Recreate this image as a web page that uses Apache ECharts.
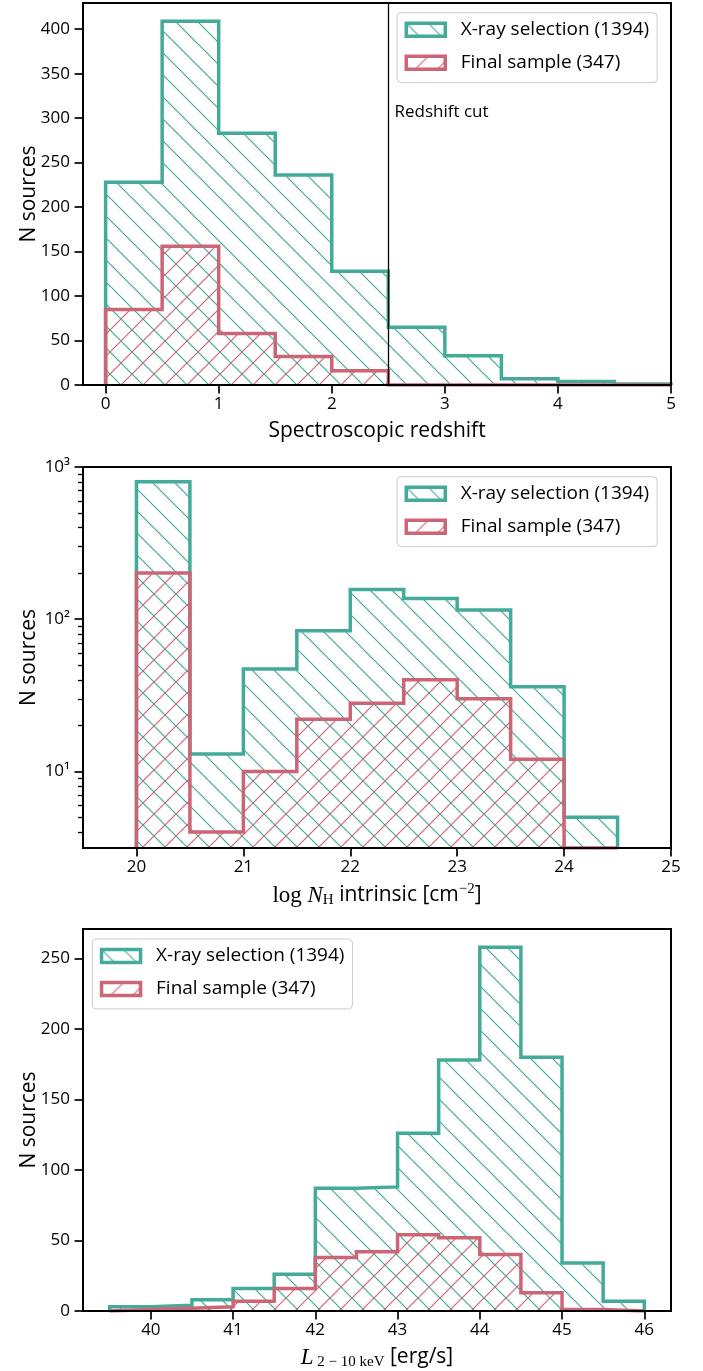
<!DOCTYPE html>
<html><head><meta charset="utf-8">
<script src="https://cdn.jsdelivr.net/npm/echarts@6/dist/echarts.min.js"></script>
<style>html,body{margin:0;padding:0;background:#fff}#c{width:703px;height:1371px}</style>
</head><body><div id="c"></div>
<script>
// ---------------- data ----------------
const NAME_XRAY = 'X-ray selection (1394)';
const NAME_FINAL = 'Final sample (347)';

// Panel 1: spectroscopic redshift
const Z_BIN_START = 0, Z_BIN_WIDTH = 0.5;
const Z_XRAY  = [228, 409, 283, 236, 128, 65, 33, 7, 4, 1];
const Z_FINAL = [85, 156, 58, 32, 16, 0, 0, 0, 0, 0];
const Z_XTICKS = [0, 1, 2, 3, 4, 5];
const Z_YTICKS = [0, 50, 100, 150, 200, 250, 300, 350, 400];
const Z_CUT = 2.5;
const Z_CUT_LABEL = 'Redshift cut';

// Panel 2: log NH intrinsic
const NH_BIN_START = 20, NH_BIN_WIDTH = 0.5;
const NH_XRAY  = [800, 13, 47, 84, 157, 137, 115, 36, 5];
const NH_FINAL = [201, 4, 10, 22, 28, 40, 30, 12, 0];
const NH_XTICKS = [20, 21, 22, 23, 24, 25];
const NH_YTICKS = [10, 100, 1000];
const NH_YMINOR = [4, 5, 6, 7, 8, 9, 20, 30, 40, 50, 60, 70, 80, 90, 200, 300, 400, 500, 600, 700, 800, 900];
const NH_YLABELS = {10: '10¹', 100: '10²', 1000: '10³'};

// Panel 3: L 2-10 keV
const L_BIN_START = 39.5, L_BIN_WIDTH = 0.5;
const L_XRAY  = [3, 4, 8, 16, 26, 87, 88, 126, 178, 258, 180, 34, 7];
const L_FINAL = [1, 2, 3, 7, 16, 38, 42, 54, 52, 40, 13, 1, 0];
const L_XTICKS = [40, 41, 42, 43, 44, 45, 46];
const L_YTICKS = [0, 50, 100, 150, 200, 250];

// ---------------- style ----------------
const TEAL = '#44AA99', ROSE = '#CC6677';
const SANS = "'Open Sans', 'Noto Sans', sans-serif";
const SERIF = "'Liberation Serif', 'DejaVu Serif', serif";
const TICK_FS = 17, NAME_FS = 21, LEG_FS = 19;

function hatch(color, dir) {
  const s = 22;
  const c = document.createElement('canvas'); c.width = s; c.height = s;
  const g = c.getContext('2d');
  g.strokeStyle = color; g.lineWidth = 1.2; g.beginPath();
  if (dir === 'back') {
    g.moveTo(-2, -2); g.lineTo(s + 2, s + 2);
    g.moveTo(-2, s - 2); g.lineTo(2, s + 2);
    g.moveTo(s - 2, -2); g.lineTo(s + 2, 2);
  } else {
    g.moveTo(-2, s + 2); g.lineTo(s + 2, -2);
    g.moveTo(-2, 2); g.lineTo(2, -2);
    g.moveTo(s - 2, s + 2); g.lineTo(s + 2, s - 2);
  }
  g.stroke();
  return {image: c, repeat: 'repeat'};
}
const TEAL_PAT = hatch(TEAL, 'back');
const ROSE_PAT = hatch(ROSE, 'fwd');

function stepPoints(start, width, counts, base) {
  const pts = [[start, base]];
  counts.forEach((v, i) => {
    const y = v > 0 ? v : base;
    const x0 = start + i * width, x1 = start + (i + 1) * width;
    pts.push([x0, y], [x1, y]);
  });
  pts.push([start + counts.length * width, base]);
  return pts;
}

function histSeries(name, xi, yi, pts, color, pat, z) {
  return {
    type: 'line', name, xAxisIndex: xi, yAxisIndex: yi, data: pts,
    symbol: 'none', showSymbol: false, silent: true, animation: false, z,
    lineStyle: {color, width: 3.5, join: 'miter', cap: 'butt'},
    itemStyle: {color},
    areaStyle: {color: pat, opacity: 1, origin: 'start'}
  };
}

const GRID_LEFT = 83, GRID_W = 588;
const grids = [
  {left: GRID_LEFT, top: 3, width: GRID_W, height: 382},
  {left: GRID_LEFT, top: 467, width: GRID_W, height: 381},
  {left: GRID_LEFT, top: 929, width: GRID_W, height: 383}
].map(g => Object.assign(g, {show: true, borderColor: '#000', borderWidth: 2, z: 3}));

const axisLineStyle = {show: true, onZero: false, lineStyle: {color: '#000', width: 2}};
const tickStyle = (vals, len) => ({show: true, length: len || 8.5, customValues: vals, lineStyle: {color: '#000', width: 1.7}});
const labelStyle = (vals, margin, fmt) => {
  const o = {show: true, customValues: vals, color: '#000', fontSize: TICK_FS, fontFamily: SANS, margin};
  if (fmt) o.formatter = fmt;
  return o;
};

function xAxis(gi, min, max, ticks, name, gap, rich) {
  const ax = {
    type: 'value', gridIndex: gi, min, max, z: 3,
    axisLine: axisLineStyle, axisTick: tickStyle(ticks), axisLabel: labelStyle(ticks, 11),
    splitLine: {show: false},
    name, nameLocation: 'middle', nameGap: gap, nameMoveOverlap: false,
    nameTextStyle: {color: '#000', fontSize: NAME_FS, fontFamily: SANS}
  };
  if (rich) ax.nameTextStyle.rich = rich;
  return ax;
}
function yAxis(gi, type, min, max, ticks, fmt) {
  return {
    type, gridIndex: gi, min, max, z: 3, logBase: 10, position: 'left',
    axisLine: axisLineStyle, axisTick: tickStyle(ticks), axisLabel: labelStyle(ticks, 13, fmt),
    splitLine: {show: false}, minorTick: {show: false},
    name: 'N sources', nameLocation: 'middle', nameRotate: 90, nameGap: 43, nameMoveOverlap: false,
    nameTextStyle: {color: '#000', fontSize: NAME_FS, fontFamily: SANS}
  };
}

const richName = {
  t: {fontFamily: SANS, fontSize: NAME_FS, color: '#000'},
  m: {fontFamily: SERIF, fontSize: 23, color: '#000'},
  mi: {fontFamily: SERIF, fontStyle: 'italic', fontSize: 23, color: '#000'},
  sub: {fontFamily: SERIF, fontSize: 15, color: '#000', padding: [10, 0, 0, 0]},
  sup: {fontFamily: SERIF, fontSize: 15, color: '#000', padding: [0, 0, 12, 0]}
};

function legend(left, top) {
  return {
    orient: 'vertical', left, top, z: 6,
    padding: [7.5, 8, 10.4, 7.5], itemWidth: 39, itemHeight: 13, itemGap: 14,
    backgroundColor: 'rgba(255,255,255,0.8)', borderColor: '#cccccc', borderWidth: 1, borderRadius: 4,
    selectedMode: false,
    textStyle: {color: '#000', fontSize: LEG_FS, fontFamily: SANS, lineHeight: 16, padding: [0, 0, 0, 10.5]},
    data: [
      {name: NAME_XRAY, icon: 'rect', itemStyle: {color: TEAL_PAT, borderColor: TEAL, borderWidth: 3.5}},
      {name: NAME_FINAL, icon: 'rect', itemStyle: {color: ROSE_PAT, borderColor: ROSE, borderWidth: 3.5}}
    ]
  };
}

const NH_YMIN = 3.14, NH_YMAX = 1000;

const option = {
  animation: false,
  backgroundColor: '#fff',
  grid: grids,
  xAxis: [
    xAxis(0, -0.2, 5, Z_XTICKS, 'Spectroscopic redshift', 36),
    xAxis(1, 19.5, 25, NH_XTICKS, '{m|log }{mi|N}{sub|H}{t| intrinsic [cm}{sup|−2}{t|]}', 34, richName),
    xAxis(2, 39.175, 46.325, L_XTICKS, '{mi|L}{sub| 2 − 10 keV}{t| [erg/s]}', 34, richName)
  ],
  yAxis: [
    yAxis(0, 'value', 0, 429.45, Z_YTICKS),
    yAxis(1, 'log', NH_YMIN, NH_YMAX, NH_YTICKS, v => NH_YLABELS[Math.round(v)] || ''),
    {
      type: 'log', logBase: 10, gridIndex: 1, min: NH_YMIN, max: NH_YMAX, z: 3, position: 'left', offset: 0,
      axisLine: {show: false}, axisLabel: {show: false}, splitLine: {show: false},
      axisTick: {show: true, length: 5, customValues: NH_YMINOR, lineStyle: {color: '#000', width: 1.3}}
    },
    yAxis(2, 'value', 0, 270.9, L_YTICKS)
  ],
  legend: [legend(397, 12.7), legend(397, 476.7), legend(92.3, 939)],
  series: [
    Object.assign(histSeries(NAME_XRAY, 0, 0, stepPoints(Z_BIN_START, Z_BIN_WIDTH, Z_XRAY, 0), TEAL, TEAL_PAT, 2), {
      markLine: {symbol: 'none', silent: true, animation: false, label: {show: false},
        lineStyle: {color: '#000', width: 1.3, type: 'solid'}, data: [{xAxis: Z_CUT}]}
    }),
    histSeries(NAME_FINAL, 0, 0, stepPoints(Z_BIN_START, Z_BIN_WIDTH, Z_FINAL, 0), ROSE, ROSE_PAT, 2),
    {
      type: 'scatter', xAxisIndex: 0, yAxisIndex: 0, silent: true, symbolSize: 1, z: 4,
      itemStyle: {color: 'rgba(0,0,0,0)'}, data: [[2.55, 307]],
      label: {show: true, position: 'right', distance: 0, formatter: Z_CUT_LABEL,
        color: '#000', opacity: 1, fontSize: 17, fontFamily: SANS}
    },
    histSeries(NAME_XRAY, 1, 1, stepPoints(NH_BIN_START, NH_BIN_WIDTH, NH_XRAY, NH_YMIN), TEAL, TEAL_PAT, 2),
    histSeries(NAME_FINAL, 1, 1, stepPoints(NH_BIN_START, NH_BIN_WIDTH, NH_FINAL, NH_YMIN), ROSE, ROSE_PAT, 2),
    histSeries(NAME_XRAY, 2, 3, stepPoints(L_BIN_START, L_BIN_WIDTH, L_XRAY, 0), TEAL, TEAL_PAT, 2),
    histSeries(NAME_FINAL, 2, 3, stepPoints(L_BIN_START, L_BIN_WIDTH, L_FINAL, 0), ROSE, ROSE_PAT, 2)
  ]
};

const chart = echarts.init(document.getElementById('c'), null, {renderer: 'canvas'});
chart.setOption(option);
</script></body></html>
